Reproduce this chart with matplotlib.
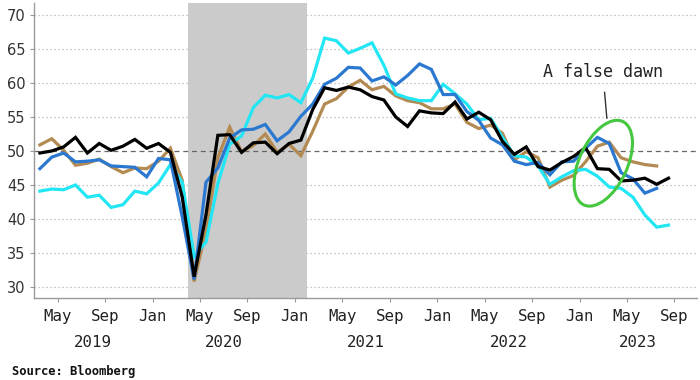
import matplotlib
matplotlib.use("Agg")
import matplotlib.pyplot as plt
import matplotlib.transforms as mtransforms
from matplotlib.patches import Ellipse
import pandas as pd

# ---------------- data (monthly PMI readings, Mar 2019 .. Aug 2023) ----------------
start_month = "2019-03"

black_vals = [49.7, 50.0, 50.6, 52.0, 49.7, 51.1, 50.1, 50.7, 51.7, 50.4,
              51.1, 49.8, 43.2, 31.5, 40.6, 52.3, 52.4, 49.8, 51.2, 51.3, 49.6, 51.1,
              51.6, 56.1, 59.3, 58.9, 59.4, 59.0, 58.0, 57.5, 55.0, 53.6, 55.9, 55.6,
              55.5, 57.2, 54.7, 55.7, 54.6, 51.4, 49.5, 50.6, 47.7, 47.2, 48.3, 49.2,
              50.5, 47.4, 47.3, 45.6, 45.7, 46.0, 45.1, 46.0]

brown_vals = [50.9, 51.8, 50.1, 47.9, 48.2, 48.8, 47.7, 46.8, 47.5, 47.4,
              48.5, 50.4, 45.7, 30.8, 38.3, 49.0, 53.5, 49.9, 50.8, 52.5, 49.8, 51.0,
              49.3, 52.9, 56.9, 57.7, 59.4, 60.4, 59.0, 59.5, 58.1, 57.4, 57.1, 56.2,
              56.2, 56.9, 54.2, 53.3, 53.8, 52.6, 48.7, 49.9, 49.0, 44.7, 45.7, 46.4,
              48.4, 50.7, 51.3, 49.0, 48.4, 48.0, 47.8]

blue_vals = [47.4, 49.1, 49.7, 48.4, 48.5, 48.7, 47.8, 47.7, 47.6, 46.2,
             48.9, 48.7, 40.3, 31.1, 45.4, 47.5, 51.9, 53.1, 53.2, 53.9, 51.5, 52.8,
             55.1, 56.9, 59.8, 60.7, 62.3, 62.2, 60.3, 60.9, 59.7, 61.1, 62.8, 62.0,
             58.3, 58.3, 55.8, 54.5, 51.9, 50.9, 48.5, 48.0, 48.3, 46.5, 48.4, 48.5,
             50.4, 52.0, 51.1, 46.8, 45.9, 43.8, 44.5]

cyan_vals = [44.1, 44.4, 44.3, 45.0, 43.2, 43.5, 41.7, 42.1, 44.1, 43.7,
             45.3, 48.0, 45.4, 34.5, 36.6, 45.2, 51.0, 52.2, 56.4, 58.2, 57.8, 58.3,
             57.1, 60.7, 66.6, 66.2, 64.4, 65.1, 65.9, 62.6, 58.4, 57.8, 57.4, 57.4,
             59.8, 58.4, 56.9, 54.6, 54.8, 52.0, 49.3, 49.1, 47.8, 45.1, 46.2, 47.1,
             47.3, 46.3, 44.7, 44.5, 43.2, 40.6, 38.8, 39.1]

recession_start = "2020-04"
recession_end = "2021-02"

tick_months = ["2019-05", "2019-09", "2020-01", "2020-05", "2020-09", "2021-01",
               "2021-05", "2021-09", "2022-01", "2022-05", "2022-09", "2023-01",
               "2023-05", "2023-09"]
tick_labels = ["May", "Sep", "Jan", "May", "Sep", "Jan", "May", "Sep", "Jan",
               "May", "Sep", "Jan", "May", "Sep"]
year_labels = ["2019", "2020", "2021", "2022", "2023"]
y_ticks = [30, 35, 40, 45, 50, 55, 60, 65, 70]


def month_pos(p):
    p = pd.Period(p, freq="M")
    return (p.year - 2019) * 12 + (p.month - 1)


def series_x(n):
    s = month_pos(start_month)
    return [s + i + 0.5 for i in range(n)]


x_left, x_right = 2.0, 57.9

fig = plt.figure(figsize=(7.0, 3.8), dpi=100)
ax = fig.add_axes([34 / 700, 1 - 298 / 380, 663 / 700, 295 / 380])

ax.set_xlim(x_left, x_right)
ax.set_ylim(28.38, 71.76)

# grid
for yv in y_ticks:
    if yv == 50:
        continue
    ax.axhline(yv, color="#b4b4b4", lw=0.9, ls=(0, (1, 2.2)), zorder=0)

# shaded period
ax.axvspan(month_pos(recession_start), month_pos(recession_end),
           color="#cbcbcb", lw=0, zorder=0.5)

ax.axhline(50, color="#666666", lw=0.9, ls=(0, (4, 3)), zorder=1)

lw = 2.3
ax.plot(series_x(len(brown_vals)), brown_vals, color="#b38a52", lw=lw, zorder=2,
        solid_joinstyle="miter")
ax.plot(series_x(len(cyan_vals)), cyan_vals, color="#22e6f4", lw=lw, zorder=3,
        solid_joinstyle="miter")
ax.plot(series_x(len(blue_vals)), blue_vals, color="#2a78d0", lw=lw, zorder=4,
        solid_joinstyle="miter")
ax.plot(series_x(len(black_vals)), black_vals, color="#000000", lw=lw, zorder=5,
        solid_joinstyle="miter")

# axes styling
for s in ["top", "right"]:
    ax.spines[s].set_visible(False)
for s in ["left", "bottom"]:
    ax.spines[s].set_color("#9a9a9a")
    ax.spines[s].set_linewidth(1.0)

ax.set_yticks(y_ticks)
ax.set_yticklabels([str(v) for v in y_ticks], fontsize=10.5,
                   family="DejaVu Sans", color="#333333")
ax.tick_params(axis="y", length=3, width=0.8, color="#9a9a9a", pad=3)

ax.set_xticks([month_pos(m) for m in tick_months])
ax.set_xticklabels(tick_labels, fontsize=11.3, family="DejaVu Sans Mono",
                   color="#222222")
ax.tick_params(axis="x", length=3, width=0.8, color="#9a9a9a", pad=5)

# year labels centred on the visible part of each year
for yl in year_labels:
    y0 = max(month_pos(f"{yl}-01"), x_left)
    y1 = min(month_pos(f"{yl}-12") + 1, x_right)
    ax.annotate(yl, xy=((y0 + y1) / 2, 0), xycoords=("data", "axes fraction"),
                xytext=(0, -32), textcoords="offset points", ha="center",
                va="center", fontsize=11.3, family="DejaVu Sans Mono",
                color="#222222", annotation_clip=False)

# annotation: ellipse + label
ell_trans = fig.dpi_scale_trans + mtransforms.ScaledTranslation(50.0, 48.2, ax.transData)
ell = Ellipse((0, 0), 0.92, 0.48, angle=65, transform=ell_trans, fill=False,
              edgecolor="#45c840", lw=2.2, zorder=6)
ax.add_patch(ell)

ax.annotate("A false dawn", xy=(50.3, 54.8), xytext=(49.96, 61.6),
            ha="center", va="center", fontsize=12, family="DejaVu Sans Mono",
            color="#222222",
            arrowprops=dict(arrowstyle="-", color="#333333", lw=1.0,
                            shrinkA=6, shrinkB=0), zorder=7)

fig.text(12 / 700, 1 - 371 / 380, "Source: Bloomberg", fontsize=8.7,
         family="DejaVu Sans Mono", fontweight="bold", color="#111111",
         ha="left", va="center")

fig.savefig("out.png", dpi=100)
